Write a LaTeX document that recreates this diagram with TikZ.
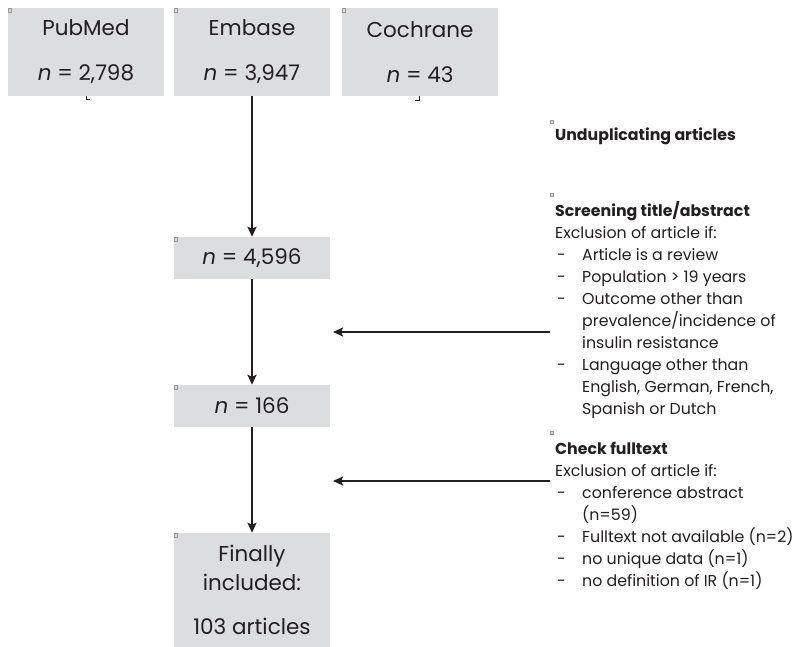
\documentclass[tikz,border=0pt]{standalone}
\usepackage{fontspec}
\setmainfont{Poppins}
\usetikzlibrary{arrows.meta}
\definecolor{boxgray}{HTML}{DCDDDF}
\definecolor{txt}{HTML}{231F20}
\definecolor{mark}{HTML}{9A9A9C}
\newcommand{\itm}{\makebox[27pt][l]{\hspace{2pt}-}}
\newcommand{\cnt}{\hspace*{27pt}}
\begin{document}
\begin{tikzpicture}[x=1pt,y=-1pt,
  box/.style={fill=boxgray, minimum width=156pt, inner sep=0pt, align=center, text=txt,
    font=\fontsize{21.5}{29}\selectfont},
  side/.style={inner sep=0pt, align=left, text=txt, font=\fontsize{15.8}{22.1}\selectfont},
  arr/.style={draw=txt, line width=2.3pt, -{Stealth[length=10pt,width=9pt,inset=2pt]}},
  marker/.style={draw=mark, fill=mark!40, line width=0.6pt, minimum size=3.5pt, inner sep=0pt},
  tick/.style={draw=txt, line width=0.9pt}
]
\useasboundingbox (0,0) rectangle (796,647);

% boxes
\node[box, minimum height=88pt] (pub) at (86,52) {PubMed\\[16pt]\textit{n} = 2,798};
\node[box, minimum height=88pt] (emb) at (252,52) {Embase\\[16pt]\textit{n} = 3,947};
\node[box, minimum height=88pt] (coc) at (420,52) {Cochrane\\[16pt]\textit{n} = 43};
\node[box, minimum height=42pt] (n1) at (252,258) {\textit{n} = 4,596};
\node[box, minimum height=42pt] (n2) at (252,406) {\textit{n} = 166};
\node[box, minimum height=114pt] (fin) at (252,590) {Finally\\included:\\[15pt]103 articles};

% corner markers
\foreach \b in {pub,emb,coc,n1,n2,fin}
  \node[marker] (m\b) at ([xshift=2pt,yshift=-2.5pt]\b.north west) {};

% leftover ticks
\draw[tick] (pub.south) ++(0,0) -- ++(0,3) -- ++(4,0);
\draw[tick] (coc.south) ++(-1,0) -- ++(0,4) -- ++(-4,0);

% side texts (anchor = baseline of last line)
\node[side, anchor=base west] (undup) at (555,140.5) {\textbf{Unduplicating articles}};
\node[side, anchor=base west] (screen) at (555,414.9) {\textbf{Screening title/abstract}\\
Exclusion of article if:\\
\itm Article is a review\\
\itm Population > 19 years\\
\itm Outcome other than\\
\cnt prevalence/incidence of\\
\cnt insulin resistance\\
\itm Language other than\\
\cnt English, German, French,\\
\cnt Spanish or Dutch};
\node[side, anchor=base west] (check) at (555,586.6) {\textbf{Check fulltext}\\
Exclusion of article if:\\
\itm conference abstract\\
\cnt (n=59)\\
\itm Fulltext not available (n=2)\\
\itm no unique data (n=1)\\
\itm no definition of IR (n=1)};

\node[marker] (mu) at (552,122) {};
\node[marker] (ms) at (552,195) {};
\node[marker] (mc) at (552,433) {};

% arrows
\draw[arr] (emb.south) -- (n1.north);
\draw[arr] (n1.south) -- (n2.north);
\draw[arr] (n2.south) -- (fin.north);
\coordinate (s1) at (550,332);
\coordinate (e1) at (333,332);
\coordinate (s2) at (550,481);
\coordinate (e2) at (333,481);
\draw[arr] (s1) -- (e1);
\draw[arr] (s2) -- (e2);
\end{tikzpicture}
\end{document}
